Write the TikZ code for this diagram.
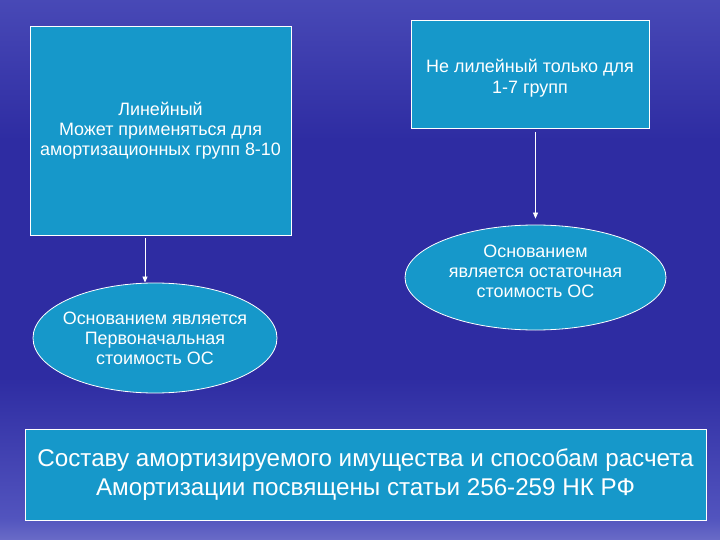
\documentclass[tikz,border=0pt]{standalone}
\usepackage{fontspec}
\setmainfont{Liberation Sans}
\usetikzlibrary{arrows.meta, positioning, shapes.geometric}

\definecolor{boxblue}{RGB}{22,152,202}
\definecolor{skydark}{RGB}{46,44,162}
\definecolor{skymid}{RGB}{82,84,190}
\definecolor{skylight}{RGB}{165,166,222}
\pgfdeclareverticalshading{sky}{100bp}{
  color(0bp)=(skydark); color(5bp)=(skymid); color(13bp)=(skydark);
  color(20bp)=(skylight); color(27bp)=(skymid); color(40bp)=(skydark);
  color(62bp)=(skydark); color(80bp)=(skymid); color(90bp)=(skymid);
  color(100bp)=(skydark)}

\begin{document}
\begin{tikzpicture}[x=1bp, y=-1bp,
    every node/.style={draw=white, line width=0.8bp, fill=boxblue, text=white,
      inner sep=2pt, align=center, font=\fontsize{18}{20}\selectfont},
    oval/.style={ellipse, inner xsep=-7bp},
    arrow/.style={draw=white, line width=0.8bp, -{Triangle[length=6bp, width=5bp]}}]
    % Background
    \shade[shading=sky] (0,0) rectangle (720,540);
    \useasboundingbox (0,0) rectangle (720,540);

    % Top-left box
    \node (linear) [minimum width=261bp, minimum height=209bp] at (160.5,130.5)
      {Линейный\\Может применяться для\\амортизационных групп 8-10};
    % Top-right box
    \node (nonlinear) [minimum width=238bp, minimum height=108bp] at (530,74)
      {\raisebox{-5bp}[\height][\depth]{\begin{tabular}{@{}c@{}}Не лилейный только для\\[2bp]1-7 групп\end{tabular}}};
    % Left ellipse
    \node (initial) [oval, minimum width=244bp, minimum height=110bp] at (155,338)
      {Основанием является\\Первоначальная\\стоимость ОС};
    % Right ellipse
    \node (residual) [oval, minimum width=261bp, minimum height=105bp] at (535.5,277.5)
      {Основанием\\является остаточная\\стоимость ОС\\[-8bp]\mbox{}};
    % Bottom box
    \node (law) [minimum width=681bp, minimum height=91bp,
      font=\fontsize{24.3}{29}\selectfont] at (365.5,474.5)
      {Составу амортизируемого имущества и способам расчета\\
       Амортизации посвящены статьи 256-259 НК РФ};

    % Edges
    \draw[arrow, shorten <=3bp] (linear.south -| 145,0) -- (initial.north -| 145,0);
    \draw[arrow, shorten <=4bp, shorten >=6bp] (nonlinear.south -| residual.north) -- (residual.north);
\end{tikzpicture}
\end{document}
